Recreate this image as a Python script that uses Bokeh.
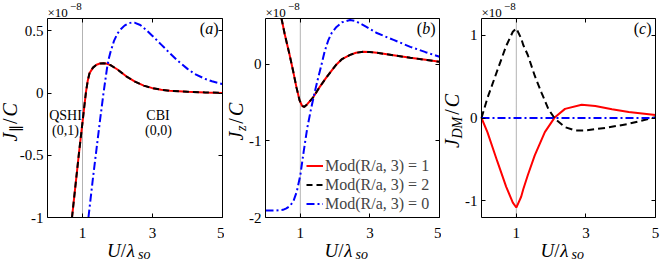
import math
from bokeh.plotting import figure
from bokeh.models import (Range1d, FixedTicker, Label, Legend, LegendItem,
                          LinearAxis, CustomJSTickFormatter)
from bokeh.layouts import row
from bokeh.embed import file_html
from bokeh.resources import INLINE

# ---------------- data (units of 1e-8) ----------------
# panel (a): J_parallel / C
u_par_12 = [0.70, 0.80, 0.90, 1.00, 1.05, 1.10, 1.15, 1.20, 1.30, 1.40, 1.50, 1.60,
            1.70, 1.80, 2.00, 2.25, 2.50, 2.75, 3.00, 3.25, 3.50, 4.00, 4.50, 5.00]
j_par_12 = [-1.0, -0.74, -0.48, -0.235, -0.11, 0.01, 0.10, 0.16, 0.205, 0.228, 0.238, 0.241,
            0.236, 0.225, 0.19, 0.135, 0.092, 0.060, 0.040, 0.027, 0.019, 0.011, 0.006, 0.002]
u_par_0 = [1.17, 1.30, 1.40, 1.50, 1.60, 1.70, 1.75, 1.80, 1.90, 2.00, 2.10, 2.20, 2.30,
           2.40, 2.50, 2.65, 2.85, 3.00, 3.25, 3.50, 3.70, 4.00, 4.20, 4.50, 4.70, 5.00]
j_par_0 = [-1.0, -0.68, -0.45, -0.22, 0.0, 0.20, 0.275, 0.33, 0.42, 0.48, 0.515, 0.543, 0.56,
           0.567, 0.565, 0.548, 0.50, 0.46, 0.39, 0.32, 0.265, 0.195, 0.155, 0.115, 0.095, 0.072]

# panel (b): J_z / C
u_z_12 = [0.46, 0.55, 0.69, 0.80, 0.89, 0.98, 1.05, 1.11, 1.20, 1.37, 1.55, 1.75,
          1.90, 2.04, 2.20, 2.43, 2.60, 2.81, 3.00, 3.20, 3.68, 4.16, 4.60, 5.00]
j_z_12 = [0.60, 0.40, 0.13, -0.10, -0.30, -0.47, -0.54, -0.555, -0.52, -0.43, -0.30, -0.17,
          -0.08, 0.0, 0.07, 0.125, 0.152, 0.165, 0.162, 0.152, 0.12, 0.087, 0.06, 0.034]
u_z_0 = [0.0, 0.3, 0.5, 0.6, 0.7, 0.8, 0.9, 1.0, 1.1, 1.2, 1.3, 1.4, 1.5, 1.6, 1.7, 1.8,
         1.9, 2.04, 2.2, 2.43, 2.6, 2.9, 3.2, 3.68, 4.16, 4.6, 5.0]
j_z_0 = [-1.91, -1.91, -1.90, -1.88, -1.85, -1.79, -1.66, -1.45, -1.13, -0.83, -0.60, -0.39, -0.20,
         -0.02, 0.17, 0.31, 0.41, 0.49, 0.55, 0.58, 0.565, 0.49, 0.41, 0.32, 0.23, 0.16, 0.10]

# panel (c): J_DM / C
u_dm_1 = [0.0, 0.17, 0.46, 0.71, 0.90, 1.0, 1.14, 1.20, 1.33, 1.53, 1.82, 2.11, 2.40, 2.88, 3.27,
          3.75, 4.23, 5.0]
j_dm_1 = [0.0, -0.17, -0.53, -0.83, -1.02, -1.08, -0.95, -0.86, -0.69, -0.45, -0.17, 0.01, 0.11, 0.16,
          0.145, 0.105, 0.072, 0.035]
u_dm_2 = [0.0, 0.17, 0.46, 0.71, 0.90, 1.0, 1.14, 1.20, 1.33, 1.53, 1.72, 1.92, 2.11, 2.40, 2.69,
          2.98, 3.56, 4.23, 5.0]
j_dm_2 = [0.0, 0.24, 0.58, 0.87, 1.04, 1.08, 0.96, 0.88, 0.76, 0.51, 0.31, 0.11, -0.01, -0.11, -0.15,
          -0.15, -0.12, -0.07, 0.01]
u_dm_0 = [0.0, 5.0]
j_dm_0 = [0.0, 0.0]

u_transition = 1.0
x_ticks = [1, 3, 5]
y_ticks_a = [-1, -0.5, 0, 0.5]
y_ticks_b = [-2, -1, 0]
y_ticks_c = [-1, 0, 1]
legend_labels = ["Mod(R/a, 3) = 1", "Mod(R/a, 3) = 2", "Mod(R/a, 3) = 0"]
phase_labels = [("QSHI", "(0,1)"), ("CBI", "(0,0)")]

# ---------------- style / layout ----------------
SERIF = "Liberation Serif"
RED, BLACK, BLUE = "#ff0000", "#000000", "#0000ff"
H, FT, FB = 262, 18, 217   # canvas height, visual frame top / bottom (page px)
MID = 0.3375               # em-box middle above the alphabetic baseline (fraction of size)


class Geom:
    """Panel canvas placed at page_left with given width; the visible box spans fl..fr, FT..FB."""
    def __init__(self, page_left, width, fl, fr, xr, yr):
        self.page_left, self.width, self.fl, self.fr = page_left, width, fl, fr
        self.x0, self.x1 = xr
        self.y0, self.y1 = yr
        kx = (self.x1 - self.x0) / (fr - fl)
        ky = (self.y1 - self.y0) / (FB - FT)
        self.cx0 = self.x0 - (fl - page_left) * kx
        self.cx1 = self.x1 + (page_left + width - fr) * kx
        self.cy1 = self.y1 + FT * ky
        self.cy0 = self.y0 - (H - FB) * ky


def style_axis(ax, ticks, standoff, blank=False):
    ax.ticker = FixedTicker(ticks=ticks)
    ax.major_tick_in = 4
    ax.major_tick_out = 0
    ax.minor_tick_line_color = None
    ax.axis_line_color = "black"
    ax.axis_line_width = 1
    ax.major_tick_line_color = "black"
    ax.major_label_standoff = standoff
    if blank:
        ax.formatter = CustomJSTickFormatter(code="return ''")
        ax.major_label_text_font_size = "0px"
    else:
        ax.formatter = CustomJSTickFormatter(code="return String(tick)")
        ax.major_label_text_font = SERIF
        ax.major_label_text_font_size = "15px"
        ax.major_label_text_color = "black"


def make_fig(g, yticks):
    p = figure(width=g.width, height=H, x_range=Range1d(g.cx0, g.cx1),
               y_range=Range1d(g.cy0, g.cy1), output_backend="svg",
               toolbar_location=None, title=None,
               x_axis_location=None, y_axis_location=None,
               min_border=0, min_border_left=0, min_border_right=0,
               min_border_top=0, min_border_bottom=0)
    p.grid.visible = False
    p.outline_line_color = None
    xb = LinearAxis(fixed_location=g.y0, bounds=(g.x0, g.x1))
    style_axis(xb, x_ticks, 10)
    p.add_layout(xb, "below")
    xt = LinearAxis(fixed_location=g.y1, bounds=(g.x0, g.x1))
    style_axis(xt, x_ticks, 0, blank=True)
    p.add_layout(xt, "above")
    yl = LinearAxis(fixed_location=g.x0, bounds=(g.y0, g.y1))
    style_axis(yl, yticks, 4)
    p.add_layout(yl, "left")
    yr = LinearAxis(fixed_location=g.x1, bounds=(g.y0, g.y1))
    style_axis(yr, yticks, 0, blank=True)
    p.add_layout(yr, "right")
    # dotted guide at the transition U = lambda_so, spanning the y-range
    p.line([u_transition, u_transition], [g.y0, g.y1], line_color="black",
           line_width=0.6, line_dash="1 1")
    return p


def put(p, g, px, py, text, size, italic=False, angle=0.0, align="left"):
    # (px, py): page pixels of the text's vertical middle -> screen offsets from bottom-left
    p.add_layout(Label(x=px - g.page_left, y=H - py, x_units="screen", y_units="screen",
                       text=text, text_font=SERIF, text_font_size=f"{size}px",
                       text_font_style="italic" if italic else "normal",
                       angle=angle, text_align=align, text_baseline="middle",
                       text_color="black"))


def put_base(p, g, px, base_py, text, size, **kw):
    put(p, g, px, base_py - MID * size, text, size, **kw)


def decorate(p, g, letter, letter_w, ylab):
    cx = (g.fl + g.fr) / 2
    # x label U/lambda_so
    put_base(p, g, cx - 28.0, 256.0, "U", 19, italic=True)
    put_base(p, g, cx - 14.3, 256.0, "/", 19)
    put_base(p, g, cx - 8.2, 256.0, "λ", 19, italic=True)
    put_base(p, g, cx + 3.0, 258.5, "so", 14, italic=True)
    # x10^-8
    put_base(p, g, g.fl, 16, "×10", 13)
    put_base(p, g, g.fl + 22.5, 10, "−8", 11)
    # panel letter
    put_base(p, g, g.fr - 4, 33, ")", 16, align="right")
    put_base(p, g, g.fr - 9.3, 33, letter, 16, italic=True, align="right")
    put_base(p, g, g.fr - 9.3 - letter_w, 33, "(", 16, align="right")
    # rotated y label pieces: (text, size, italic, start_py, is_sub); baseline at x = bx
    bx = ylab[0]
    for text, size, it, spy, sub in ylab[1]:
        mx = bx + (3.5 if sub else 0.0) - MID * size
        put(p, g, mx, spy, text, size, italic=it, angle=math.pi / 2)


ga = Geom(0, 224, 47, 222, (0, 5), (-1, 0.6))
gb = Geom(224, 217, 265, 439, (0, 5), (-2, 0.6))
gc = Geom(441, 219, 481, 655, (0, 5), (-1.2, 1.2))

# ---- panel (a)
pa = make_fig(ga, y_ticks_a)
pa.line(u_par_12, j_par_12, line_color=RED, line_width=2)
pa.line(u_par_12, j_par_12, line_color=BLACK, line_width=2, line_dash="6 4")
pa.line(u_par_0, j_par_0, line_color=BLUE, line_width=2, line_dash="8 3 2 3")
decorate(pa, ga, "a", 8.0, (16.5, [("J", 20, True, 141.0, False), ("∥", 14, False, 131.5, True),
                                    ("/", 20, False, 123.5, False), ("C", 20, True, 116.0, False)]))
put(pa, ga, 65, 115, phase_labels[0][0], 14, align="center")
put(pa, ga, 65, 130, phase_labels[0][1], 14, align="center")
put(pa, ga, 157.5, 115, phase_labels[1][0], 14, align="center")
put(pa, ga, 158, 130, phase_labels[1][1], 14, align="center")

# ---- panel (b)
pb = make_fig(gb, y_ticks_b)
rb1 = pb.line(u_z_12, j_z_12, line_color=RED, line_width=2)
rb2 = pb.line(u_z_12, j_z_12, line_color=BLACK, line_width=2, line_dash="6 4")
rb3 = pb.line(u_z_0, j_z_0, line_color=BLUE, line_width=2, line_dash="8 3 2 3")
decorate(pb, gb, "b", 8.0, (242.5, [("J", 20, True, 140.0, False), ("z", 14, True, 130.6, True),
                                    ("/", 20, False, 123.2, False), ("C", 20, True, 115.6, False)]))
legend = Legend(items=[LegendItem(label=legend_labels[0], renderers=[rb1]),
                       LegendItem(label=legend_labels[1], renderers=[rb2]),
                       LegendItem(label=legend_labels[2], renderers=[rb3])],
                location=(306 - gb.page_left, H - 213))
legend.background_fill_color = "white"
legend.background_fill_alpha = 1.0
legend.border_line_color = None
legend.label_text_font = SERIF
legend.label_text_font_size = "16px"
legend.glyph_width = 17
legend.glyph_height = 19
legend.label_height = 19
legend.label_standoff = 2
legend.spacing = 0
legend.padding = 2
legend.margin = 0
pb.add_layout(legend)

# ---- panel (c)
pc = make_fig(gc, y_ticks_c)
pc.line(u_dm_1, j_dm_1, line_color=RED, line_width=2)
pc.line(u_dm_2, j_dm_2, line_color=BLACK, line_width=2, line_dash="7 4")
pc.line(u_dm_0, j_dm_0, line_color=BLUE, line_width=2, line_dash="8 3 2 3")
decorate(pc, gc, "c", 7.1, (458, [("J", 20, True, 147.5, False), ("DM", 14, True, 138.1, True),
                                  ("/", 20, False, 114.3, False), ("C", 20, True, 106.7, False)]))

layout = row(pa, pb, pc)
open("out.html", "w").write(file_html(layout, INLINE))
